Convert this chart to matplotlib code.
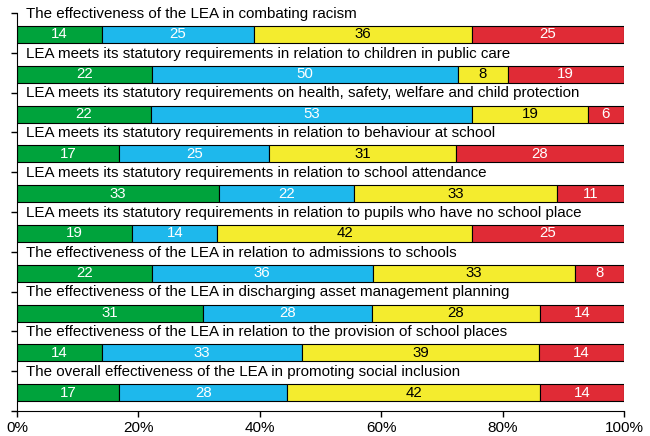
import numpy as np
import matplotlib.pyplot as plt

labels = [
    "The effectiveness of the LEA in combating racism",
    "LEA meets its statutory requirements in relation to children in public care",
    "LEA meets its statutory requirements on health, safety, welfare and child protection",
    "LEA meets its statutory requirements in relation to behaviour at school",
    "LEA meets its statutory requirements in relation to school attendance",
    "LEA meets its statutory requirements in relation to pupils who have no school place",
    "The effectiveness of the LEA in relation to admissions to schools",
    "The effectiveness of the LEA in discharging asset management planning",
    "The effectiveness of the LEA in relation to the provision of school places",
    "The overall effectiveness of the LEA in promoting social inclusion",
]
green = [14, 22, 22, 17, 33, 19, 22, 31, 14, 17]
blue = [25, 50, 53, 25, 22, 14, 36, 28, 33, 28]
yellow = [36, 8, 19, 31, 33, 42, 33, 28, 39, 42]
red = [25, 19, 6, 28, 11, 25, 8, 14, 14, 14]

series = [green, blue, yellow, red]
colors = ['#00a33c', '#1eb8ec', '#f4ec2e', '#e02b36']
text_colors = ['white', 'white', 'black', 'white']

plt.rcParams['font.family'] = ['Liberation Sans', 'DejaVu Sans']

fig = plt.figure(figsize=(6.5, 4.36), dpi=100)
ax = fig.add_axes([17 / 650, 1 - 411 / 436, 607 / 650, 398 / 436])

# each row is scaled to 100% (rounded shares do not always add up)
data = np.array(series, dtype=float)
pct = data / data.sum(axis=0) * 100
n = len(labels)
ypos = np.arange(n) + 0.54
left = np.zeros(n)
for k in range(len(series)):
    ax.barh(ypos, pct[k], left=left, height=0.43, color=colors[k],
            edgecolor='black', linewidth=0.8)
    for i in range(n):
        ax.text(left[i] + pct[k][i] / 2, ypos[i], str(series[k][i]),
                ha='center', va='center', fontsize=10.8, color=text_colors[k])
    left += pct[k]

for i, lab in enumerate(labels):
    ax.text(1.5, i + 0.02, lab, ha='left', va='center', fontsize=10.9, color='black')

ax.set_xlim(0, 100)
ax.set_ylim(n, 0)
ax.set_yticks(np.arange(n + 1))
ax.set_yticklabels([])
ax.set_xticks([0, 20, 40, 60, 80, 100])
ax.set_xticklabels(['0%', '20%', '40%', '60%', '80%', '100%'], fontsize=11)
ax.tick_params(axis='x', length=4, width=1, pad=3)
ax.tick_params(axis='y', length=4, width=1)
ax.spines['top'].set_visible(False)
ax.spines['right'].set_visible(False)

fig.savefig('out.png', dpi=100)
